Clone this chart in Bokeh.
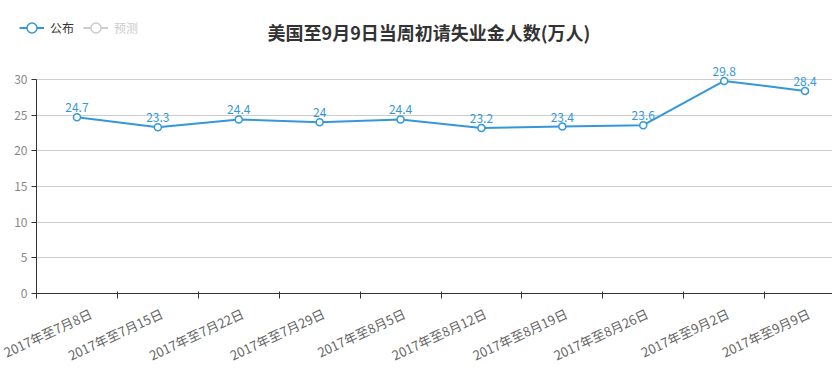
import math
from bokeh.plotting import figure
from bokeh.layouts import column
from bokeh.models import (ColumnDataSource, Range1d, FixedTicker, Legend, LegendItem,
                          Label, LabelSet)
from bokeh.core.properties import value
from bokeh.embed import file_html
from bokeh.resources import INLINE

# ---- data ----
categories = ["2017年至7月8日", "2017年至7月15日", "2017年至7月22日", "2017年至7月29日",
              "2017年至8月5日", "2017年至8月12日", "2017年至8月19日", "2017年至8月26日",
              "2017年至9月2日", "2017年至9月9日"]
published = [24.7, 23.3, 24.4, 24, 24.4, 23.2, 23.4, 23.6, 29.8, 28.4]
forecast = [None, None, None, None, None, None, None, None, None, None]  # no forecast values shown
y_ticks = [0, 5, 10, 15, 20, 25, 30]
title_text = "美国至9月9日当周初请失业金人数(万人)"
series_names = ["公布", "预测"]

FONT = "Noto Sans CJK SC"
BLUE = "#3398DB"
GRAY = "#ccc"

n = len(categories)
centers = [i + 0.5 for i in range(n)]
labels_txt = [("%g" % v) for v in published]
src = ColumnDataSource(dict(x=centers, y=published, t=labels_txt))
src_fc = ColumnDataSource(dict(x=centers, y=[float("nan") if v is None else v for v in forecast]))

W = 832
HEAD_H = 55
cat_px = 80.9
left_px = 36
frame_h = 293 - HEAD_H          # frame from page y=55 to y=293
MAIN_H = 388 - HEAD_H
x1 = (W - left_px) / cat_px
y1 = 30 * frame_h / 214.0

# ---------------- main chart ----------------
p = figure(width=W, height=MAIN_H, output_backend="svg", toolbar_location=None,
           x_range=Range1d(0, x1), y_range=Range1d(0, y1),
           min_border_left=left_px, min_border_right=0, min_border_top=0,
           min_border_bottom=MAIN_H - frame_h)
p.frame_align = False
p.outline_line_color = None
p.background_fill_color = "white"
p.border_fill_color = "white"

p.line("x", "y", source=src, line_color=BLUE, line_width=2)
p.scatter("x", "y", source=src, size=7, fill_color="white", line_color=BLUE, line_width=1.5)
p.line("x", "y", source=src_fc, line_color=GRAY, line_width=2)

p.add_layout(LabelSet(x="x", y="y", text="t", source=src, text_align="center",
                      text_baseline="bottom", y_offset=5, text_font=value(FONT),
                      text_font_size="12px", text_color=BLUE))

label_shift = 4 / cat_px
label_pos = [c + label_shift for c in centers]
xa = p.xaxis[0]
xa.bounds = (0, n)
xa.ticker = FixedTicker(ticks=label_pos, minor_ticks=list(range(n + 1)))
xa.major_label_overrides = {c: lab for c, lab in zip(label_pos, categories)}
xa.major_tick_out = 0
xa.major_tick_in = 0
xa.minor_tick_out = 5
xa.minor_tick_in = 2
xa.minor_tick_line_color = "#333"
xa.axis_line_color = "#333"
xa.major_label_orientation = math.radians(25)
xa.major_label_text_font = FONT
xa.major_label_text_font_size = "13px"
xa.major_label_text_color = "#666"
xa.major_label_standoff = 14

ya = p.yaxis[0]
ya.bounds = (0, 30)
ya.ticker = FixedTicker(ticks=y_ticks, minor_ticks=[])
ya.major_tick_out = 5
ya.major_tick_in = 0
ya.major_tick_line_color = "#333"
ya.axis_line_color = "#333"
ya.major_label_text_font = FONT
ya.major_label_text_font_size = "12px"
ya.major_label_text_color = "#888"
ya.major_label_standoff = 4

p.xgrid.grid_line_color = None
p.ygrid.grid_line_color = "#ccc"
p.ygrid.ticker = FixedTicker(ticks=y_ticks[1:])

# ---------------- header: title + legend ----------------
h = figure(width=W, height=HEAD_H, output_backend="svg", toolbar_location=None,
           x_range=Range1d(1000, 1000 + W), y_range=Range1d(1000, 1000 + HEAD_H),
           x_axis_type=None, y_axis_type=None,
           min_border_left=0, min_border_right=0, min_border_top=0, min_border_bottom=0)
h.frame_align = False
h.outline_line_color = None
h.grid.visible = False
h.background_fill_color = "white"
h.border_fill_color = "white"

# legend renderers share the chart's data (out of the header's view)
hl1 = h.line("x", "y", source=src, line_color=BLUE, line_width=2)
hs1 = h.scatter("x", "y", source=src, size=7, fill_color="white", line_color=BLUE, line_width=1.5)
hl2 = h.line("x", "y", source=src_fc, line_color=GRAY, line_width=2)
hs2 = h.scatter("x", "y", source=src_fc, size=7, fill_color="white", line_color=GRAY,
                line_width=1.5)

h.add_layout(Label(x=428.5, y=HEAD_H - 31, x_units="screen", y_units="screen",
                   text=title_text, text_font=FONT, text_font_size="18px",
                   text_font_style="bold", text_color="#333", text_align="center",
                   text_baseline="middle"))

common = dict(orientation="horizontal", padding=0, margin=0, glyph_width=25, glyph_height=25,
              label_standoff=6, spacing=11, label_text_font=FONT, label_text_font_size="12px",
              border_line_color=None, background_fill_alpha=0, label_height=12)
h.add_layout(Legend(items=[LegendItem(label=series_names[0], renderers=[hl1, hs1])],
                    location=(19, HEAD_H - 39.5), label_text_color="#333", **common))
h.add_layout(Legend(items=[LegendItem(label=series_names[1], renderers=[hl2, hs2])],
                    location=(83, HEAD_H - 39.5), label_text_color=GRAY, **common))

layout = column(h, p, spacing=0)
open("out.html", "w").write(file_html(layout, INLINE))
